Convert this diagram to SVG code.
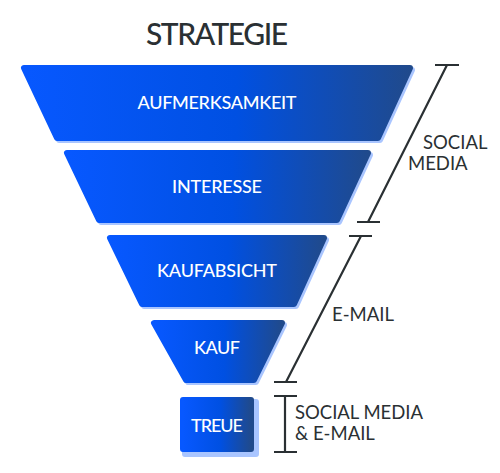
<svg xmlns="http://www.w3.org/2000/svg" width="500" height="473" viewBox="0 0 500 473">
<defs>
<linearGradient id="g" x1="0" y1="0" x2="1" y2="0">
<stop offset="0" stop-color="#0758ff"/>
<stop offset="0.55" stop-color="#0050e2"/>
<stop offset="1" stop-color="#204a8c"/>
</linearGradient>
</defs>
<style>
.sh{fill:#a9c5ff;stroke:#a9c5ff;stroke-width:6;stroke-linejoin:round}
.fu{fill:url(#g);stroke:url(#g);stroke-width:6;stroke-linejoin:round}
.lb{fill:#ffffff;font-family:Lato,"Liberation Sans",sans-serif;font-size:18px;font-weight:500;text-anchor:middle}
.br{stroke:#2a3033;stroke-width:2.2;fill:none}
.tx{fill:#2a3033;font-family:Lato,"Liberation Sans",sans-serif;font-size:18.5px}
</style>
<rect width="500" height="473" fill="#ffffff"/>
<text x="217" y="45" fill="#2a3033" font-family="Lato,'Liberation Sans',sans-serif" font-size="30" font-weight="500" text-anchor="middle" textLength="142">STRATEGIE</text>
<g id="aufmerksamkeit">
<polygon class="sh" points="26,70 412,70 380,140 59,140"/>
<polygon class="fu" points="24,68 410,68 378,138 57,138"/>
<text class="lb" x="217" y="109" textLength="159">AUFMERKSAMKEIT</text>
</g>
<g id="interesse">
<polygon class="sh" points="69,155 370,155 339,222 101,222"/>
<polygon class="fu" points="67,153 368,153 337,220 99,220"/>
<text class="lb" x="217" y="193" textLength="90">INTERESSE</text>
</g>
<g id="kaufabsicht">
<polygon class="sh" points="112,240 326,240 296,306 144,306"/>
<polygon class="fu" points="110,238 324,238 294,304 142,304"/>
<text class="lb" x="217" y="277" textLength="120">KAUFABSICHT</text>
</g>
<g id="kauf">
<polygon class="sh" points="156,325 284,325 256,382 188,382"/>
<polygon class="fu" points="154,323 282,323 254,380 186,380"/>
<text class="lb" x="217" y="354" textLength="46">KAUF</text>
</g>
<g id="treue">
<rect class="sh" x="185" y="402" width="71" height="52"/>
<rect class="fu" x="183" y="400" width="68" height="49"/>
<text class="lb" x="217" y="432" textLength="52">TREUE</text>
</g>
<g id="connectors">
<path class="br" d="M435,65H459M447,65L368,222M357,222H380"/>
<path class="br" d="M349,236H372M361,236L286,382M274,382H297"/>
<path class="br" d="M274,396H297M285,396V452M274,452H297"/>
</g>
<g id="labels">
<text class="tx" x="423" y="149">SOCIAL</text>
<text class="tx" x="408" y="170">MEDIA</text>
<text class="tx" x="332" y="321">E-MAIL</text>
<text class="tx" x="295" y="419" textLength="128">SOCIAL MEDIA</text>
<text class="tx" x="295" y="440">&amp; E-MAIL</text>
</g>
</svg>
